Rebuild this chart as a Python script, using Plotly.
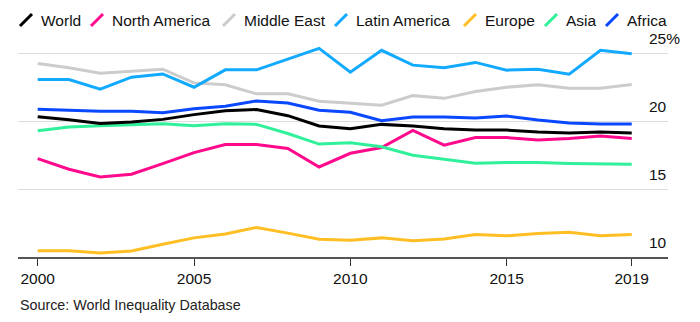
import plotly.graph_objects as go

# Top 10% income share by region, 2000-2019 (%)
years = list(range(2000, 2020))
world = [20.35, 20.13, 19.85, 19.95, 20.15, 20.5, 20.79, 20.87, 20.42, 19.66,
         19.46, 19.78, 19.66, 19.46, 19.36, 19.36, 19.21, 19.14, 19.21, 19.14]
north_america = [17.26, 16.47, 15.9, 16.1, 16.89, 17.7, 18.3, 18.3, 18.0, 16.64,
                 17.65, 18.07, 19.33, 18.25, 18.81, 18.81, 18.62, 18.74, 18.92, 18.74]
middle_east = [24.27, 23.95, 23.56, 23.73, 23.85, 22.84, 22.7, 22.03, 22.03, 21.48,
               21.36, 21.19, 21.9, 21.7, 22.2, 22.52, 22.7, 22.44, 22.44, 22.72]
latin_america = [23.09, 23.09, 22.37, 23.26, 23.5, 22.52, 23.8, 23.8, 24.59, 25.39,
                 23.63, 25.24, 24.15, 23.95, 24.35, 23.78, 23.85, 23.48, 25.24, 24.99]
europe = [10.47, 10.47, 10.3, 10.44, 10.94, 11.41, 11.7, 12.18, 11.76, 11.31,
          11.24, 11.41, 11.19, 11.33, 11.66, 11.56, 11.73, 11.83, 11.56, 11.66]
asia = [19.31, 19.58, 19.68, 19.73, 19.83, 19.68, 19.83, 19.78, 19.11, 18.33,
        18.42, 18.13, 17.51, 17.21, 16.92, 16.96, 16.96, 16.89, 16.84, 16.84]
africa = [20.89, 20.82, 20.74, 20.74, 20.64, 20.94, 21.11, 21.51, 21.36, 20.82,
          20.67, 20.05, 20.33, 20.33, 20.25, 20.4, 20.1, 19.88, 19.8, 19.8]

x_tickvals = [2000, 2005, 2010, 2015, 2019]
y_tickvals = [10, 15, 20, 25]
y_ticklabels = ["10", "15", "20", "25"]

series = [
    ("World", world, "#000000"),
    ("North America", north_america, "#ff0a8c"),
    ("Middle East", middle_east, "#cccccc"),
    ("Latin America", latin_america, "#12aaff"),
    ("Europe", europe, "#ffbf24"),
    ("Asia", asia, "#30f09a"),
    ("Africa", africa, "#0a48ff"),
]

FONT = "Liberation Sans, Arial, sans-serif"
W, H = 700, 322
ML, MR, MT, MB = 18, 32, 18, 65
PW, PH = W - ML - MR, H - MT - MB
PX_PER_UNIT = 13.56
Y_TOP = 10 + PH / PX_PER_UNIT

# numbers stay aligned; only the top label shows its percent sign
ghost_pct = "<span style='color:rgba(0,0,0,0)'>%</span>"
y_ticktext = [t + ("%" if i == len(y_ticklabels) - 1 else ghost_pct)
              for i, t in enumerate(y_ticklabels)]

fig = go.Figure()
# draw World last so it sits on top
for name, vals, color in series[1:] + series[:1]:
    fig.add_trace(go.Scatter(x=years, y=vals, name=name, mode="lines",
                             line=dict(color=color, width=3),
                             showlegend=False))

# hand-built legend with slanted line keys
legend_x = [20, 91, 223, 335, 464, 545, 606]
for (name, _, color), px in zip(series, legend_x):
    x0 = (px - ML) / PW
    x1 = (px + 12 - ML) / PW
    fig.add_shape(type="line", xref="paper", yref="paper",
                  x0=x0, x1=x1,
                  y0=(H - MB - 26) / PH, y1=(H - MB - 14) / PH,
                  line=dict(color=color, width=3))
    fig.add_annotation(text=name, xref="paper", yref="paper",
                       x=(px + 19 - ML) / PW, y=(H - MB - 20) / PH,
                       xanchor="left", yanchor="middle", showarrow=False,
                       font=dict(family=FONT, size=15.5, color="#111"))

fig.add_annotation(text="Source: World Inequality Database",
                   xref="paper", yref="paper", x=0, y=(H - MB - 305) / PH,
                   xanchor="left", yanchor="middle", showarrow=False,
                   font=dict(family=FONT, size=14.3, color="#222"))

fig.update_layout(
    width=W, height=H,
    margin=dict(l=ML, r=MR, t=MT, b=MB, pad=0),
    paper_bgcolor="white", plot_bgcolor="white",
    font=dict(family=FONT, color="#111"),
    xaxis=dict(range=[1999.37, 2020.16], tickvals=x_tickvals,
               ticks="outside", ticklen=7, tickcolor="#333", tickwidth=1,
               showline=True, linecolor="#555", linewidth=1.5,
               showgrid=False, zeroline=False,
               tickfont=dict(family=FONT, size=15.5, color="#111")),
    yaxis=dict(range=[10, Y_TOP], side="right", tickvals=y_tickvals,
               ticktext=y_ticktext, ticklabelposition="inside top",
               ticklabelstandoff=-15, ticklabelshift=-4,
               showgrid=True, gridcolor="#dddddd", gridwidth=1,
               zeroline=False, showline=False, ticks="",
               tickfont=dict(family=FONT, size=15.5, color="#111")),
)

fig.write_html("out.html")
